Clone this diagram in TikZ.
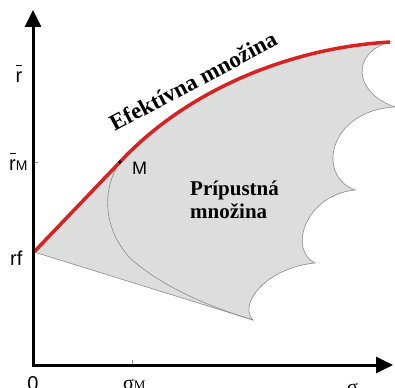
\documentclass[tikz,border=0pt]{standalone}
\usepackage{fontspec}
\setmainfont{Liberation Serif}
\setsansfont{Liberation Sans}
\usetikzlibrary{arrows.meta}
\definecolor{effred}{RGB}{216,34,34}
\definecolor{regfill}{RGB}{221,221,221}
\definecolor{regline}{RGB}{140,140,140}
\newcommand{\barr}{\makebox[0pt][l]{\hspace{0.3pt}\rule[17pt]{6.5pt}{1.1pt}}r}
\begin{document}
\begin{tikzpicture}[x=1pt,y=-1pt,
  axisline/.style={line width=3pt,{Triangle[length=17pt,width=16pt]}-{Triangle[length=17pt,width=16pt]}},
  thinline/.style={draw=regline,line width=0.6pt},
  sanslab/.style={font=\sffamily\fontsize{20}{20}\selectfont,inner sep=0pt},
  seriflab/.style={font=\fontsize{20}{20}\selectfont,inner sep=0pt},
  boldlab/.style={font=\bfseries\fontsize{21}{21}\selectfont,inner sep=0pt}
]
\useasboundingbox (0,0) rectangle (395,387);
\clip (0,0) rectangle (395,387);
\coordinate (O) at (33,365);
\coordinate (Ytop) at (33,10);
\coordinate (Xend) at (393,365);
\coordinate (rf) at (34,252);
\coordinate (M) at (120,162);
\coordinate (E) at (390,42);
\coordinate (c1) at (395,107);
\coordinate (c2) at (355,190);
\coordinate (c3) at (315,263);
\coordinate (T) at (253,320);
\coordinate (sigM) at (132,365);
\coordinate (rM) at (33,162);
% admissible set
\path[fill=regfill,thinline] (rf) -- (M) .. controls (185,92) and (287,48) .. (E)
  .. controls (352,52) and (352,92) .. (c1)
  .. controls (330,110) and (315,175) .. (c2)
  .. controls (305,195) and (288,250) .. (c3)
  .. controls (265,268) and (238,305) .. (T) -- cycle;
% risky-asset frontier
\draw[thinline] (M) .. controls (104,185) and (100,225) .. (130,258)
  .. controls (165,290) and (220,310) .. (T);
% efficient set
\draw[effred,line width=3.5pt,line join=round] (rf) -- (M) .. controls (185,92) and (287,48) .. (E);
\fill (M) circle (1.8pt);
% ticks
\draw[thinline] (sigM) -- ++(0,-5);
\draw[thinline] (rM) -- ++(5,0);
% axes
\draw[axisline] (Ytop) -- (O) -- (Xend);
% labels
\node[sanslab,anchor=base] (lr) at (19,83) {\barr};
\node[sanslab,anchor=base west] (lrM) at (9,171) {\barr\fontsize{14}{14}\selectfont M};
\node[sanslab,anchor=base west] (lrf) at (10,265) {rf};
\node[sanslab,anchor=base west,font=\sffamily\fontsize{18}{18}\selectfont] (lM) at (132,175) {M};
\node[sanslab,anchor=base] (l0) at (33,390) {0};
\node[seriflab,anchor=base west] (lsM) at (123,389) {σ\fontsize{13}{13}\selectfont M};
\node[seriflab,anchor=base west] (ls) at (347,393) {σ};
\node[rotate=28,inner sep=0pt,font=\bfseries\fontsize{23}{23}\selectfont] (eff) at (193,81) {Efektívna množina};
\node[boldlab,anchor=base west] (adm1) at (190,195) {Prípustná};
\node[boldlab,anchor=base west] (adm2) at (190,218) {množina};
\end{tikzpicture}
\end{document}
